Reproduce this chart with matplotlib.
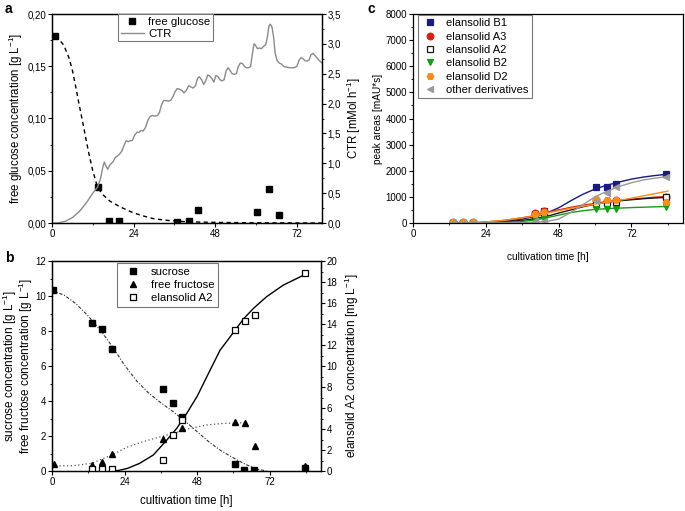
import numpy as np
import matplotlib
matplotlib.use('Agg')
import matplotlib.pyplot as plt
from matplotlib.ticker import MultipleLocator, FuncFormatter

plt.rcParams['font.family'] = ['Liberation Sans', 'DejaVu Sans']
plt.rcParams['font.size'] = 8.3
plt.rcParams['axes.labelsize'] = 8.3
plt.rcParams['xtick.labelsize'] = 7
plt.rcParams['ytick.labelsize'] = 7
plt.rcParams['axes.linewidth'] = 0.9
plt.rcParams['xtick.direction'] = 'out'
plt.rcParams['ytick.direction'] = 'out'
plt.rcParams['xtick.major.size'] = 2.6
plt.rcParams['ytick.major.size'] = 2.6
plt.rcParams['xtick.minor.size'] = 1.6
plt.rcParams['ytick.minor.size'] = 1.6
plt.rcParams['xtick.major.pad'] = 1.8
plt.rcParams['ytick.major.pad'] = 1.5
plt.rcParams['mathtext.default'] = 'regular'

# ---- panel a: free glucose + CTR
glc_t = [0.8, 13.4, 16.7, 19.8, 36.8, 40.2, 43.0, 60.3, 63.7, 66.9]
glc_y = [0.179, 0.034, 0.002, 0.002, 0.0006, 0.002, 0.0128, 0.011, 0.0326, 0.0077]
glc_fit_t = [0.8, 2, 3.5, 5, 6, 7, 8, 9, 10, 11, 12, 13.4, 15, 17, 20, 23, 26, 30, 34, 38, 42, 50, 60, 79.4]
glc_fit_y = [0.178, 0.176, 0.170, 0.158, 0.146, 0.130, 0.113, 0.097, 0.080, 0.064, 0.050, 0.034, 0.027, 0.021,
             0.0155, 0.011, 0.0075, 0.004, 0.0025, 0.0015, 0.001, 0.0005, 0.0002, 0.0]

ctr_t = [0, 2, 4, 6, 8, 10, 12, 13.4, 14.3, 15.0, 15.4, 15.9, 16.4, 17.0, 18.0, 18.6, 19.2, 19.8, 20.5,
         21.2, 21.8, 22.4, 23.0, 23.6, 24.3, 25.0, 25.6, 26.2, 26.8, 27.5, 28.2, 28.8, 29.4, 30.2, 31.0,
         31.6, 32.2, 32.8, 33.5, 34.3, 35.0, 35.6, 36.2, 36.8, 37.5, 38.2, 38.8, 39.5, 40.2, 40.8, 41.5,
         42.2, 42.8, 43.3, 44.0, 44.6, 45.2, 45.8, 46.4, 47.0, 47.6, 48.2, 48.8, 49.4, 50.0, 50.6, 51.2,
         51.8, 52.4, 53.0, 53.6, 54.2, 54.8, 55.4, 56.0, 56.6, 57.2, 57.8, 58.4, 58.9, 59.4, 59.8, 60.4,
         61.0, 61.6, 62.2, 62.8, 63.3, 63.8, 64.2, 64.7, 65.2, 65.6, 66.2, 66.8, 67.5, 68.2, 69.0, 70.0,
         71.0, 72.0, 72.6, 73.2, 73.8, 74.4, 75.0, 75.6, 76.2, 76.8, 77.4, 78.0, 78.6, 79.4]
ctr_y = [0, 0.005, 0.03, 0.09, 0.19, 0.33, 0.5, 0.6, 0.75, 0.95, 1.02, 0.95, 0.9, 0.97, 1.03, 1.1, 1.12,
         1.15, 1.2, 1.3, 1.38, 1.36, 1.38, 1.38, 1.47, 1.52, 1.52, 1.55, 1.54, 1.6, 1.72, 1.78, 1.8, 1.79,
         1.8, 1.85, 1.98, 2.05, 2.05, 2.04, 2.06, 2.12, 2.2, 2.25, 2.24, 2.22, 2.18, 2.22, 2.3, 2.28, 2.26,
         2.3, 2.42, 2.45, 2.4, 2.32, 2.38, 2.48, 2.46, 2.42, 2.36, 2.47, 2.45, 2.4, 2.38, 2.4, 2.55, 2.6,
         2.55, 2.5, 2.49, 2.5, 2.62, 2.68, 2.67, 2.62, 2.6, 2.6, 2.62, 2.82, 3.0, 2.98, 2.92, 2.93, 2.92,
         2.96, 2.98, 3.1, 3.3, 3.33, 3.28, 3.1, 2.85, 2.72, 2.68, 2.66, 2.62, 2.61, 2.6, 2.6, 2.62, 2.72,
         2.77, 2.75, 2.72, 2.71, 2.73, 2.82, 2.84, 2.8, 2.76, 2.72, 2.68]

# ---- panel b: sucrose, fructose, elansolid A2
suc_t = [0.3, 13.1, 16.7, 19.7, 36.8, 40.1, 42.9, 60.6, 63.6, 66.9, 83.6]
suc_y = [10.35, 8.45, 8.1, 6.97, 4.67, 3.87, 3.1, 0.4, 0.05, 0.05, 0.15]
fru_t = [0.5, 13.1, 16.6, 19.7, 36.8, 42.9, 60.6, 63.9, 67.0, 83.6]
fru_y = [0.38, 0.34, 0.53, 0.97, 1.81, 2.44, 2.78, 2.76, 1.45, 0.29]
a2_t = [13.1, 16.6, 19.7, 36.8, 40.1, 42.9, 60.4, 63.7, 67.0, 83.6]
a2_y = [0.16, 0.16, 0.2, 1.05, 3.43, 4.86, 13.43, 14.31, 14.86, 18.83]

suc_fit_t = [0, 4, 8, 12, 16, 20, 24, 28, 32, 36, 40, 44, 48, 52, 56, 60, 64, 68, 71]
suc_fit_y = [10.3, 10.05, 9.55, 8.85, 8.05, 7.1, 6.05, 5.15, 4.45, 3.9, 3.4, 2.85, 2.25, 1.65, 1.15,
             0.75, 0.38, 0.1, 0.0]
fru_fit_t = [0, 7, 13.1, 19.7, 24.7, 30.2, 36.8, 40.1, 45.7, 51.2, 56.7, 62.3, 64.5]
fru_fit_y = [0.29, 0.3, 0.44, 0.91, 1.35, 1.68, 2.0, 2.15, 2.44, 2.63, 2.72, 2.75, 2.78]
a2_fit_t = [19, 22, 25, 29, 33.5, 38, 41.3, 44.6, 48, 52.3, 55.6, 59, 63.4, 66.7, 71, 76.5, 83.6]
a2_fit_y = [0, 0.05, 0.25, 0.73, 1.52, 2.95, 4.07, 5.5, 7.1, 9.6, 11.5, 12.8, 14.5, 15.5, 16.6, 17.7, 18.7]

# ---- panel c: peak areas
c_t = [13.1, 16.6, 19.7, 40.1, 43.1, 60.4, 63.8, 66.8, 83.5]
b1 = [10, 10, 10, 330, 450, 1360, 1370, 1480, 1890]
a3 = [20, 20, 20, 400, 470, 880, 850, 880, 1000]
a2 = [5, 5, 5, 260, 300, 720, 760, 790, 980]
b2 = [5, 5, 5, 150, 170, 530, 520, 520, 620]
d2 = [30, 30, 30, 330, 430, 920, 880, 880, 820]
oth = [5, 5, 5, 60, 80, 830, 1150, 1390, 1770]

fit_t = [13, 20, 24, 30, 36, 40, 44, 48, 52, 56, 60, 64, 68, 72, 76, 80, 84]
b1_fit = [0, 5, 20, 60, 150, 250, 380, 580, 850, 1100, 1300, 1450, 1570, 1680, 1760, 1820, 1870]
a3_fit = [0, 10, 40, 100, 200, 280, 400, 500, 600, 680, 750, 820, 870, 910, 950, 990, 1020]
a2_fit = [0, 0, 15, 50, 100, 160, 250, 380, 500, 620, 720, 800, 850, 890, 930, 960, 985]
b2_fit = [0, 0, 5, 20, 60, 110, 200, 300, 400, 470, 520, 550, 570, 590, 605, 620, 630]
d2_fit = [0, 10, 40, 100, 200, 270, 380, 470, 560, 640, 720, 800, 870, 950, 1040, 1130, 1220]
oth_fit = [0, 0, 0, 5, 15, 30, 60, 150, 400, 700, 1000, 1220, 1400, 1540, 1650, 1720, 1780]

comma = lambda nd: FuncFormatter(lambda v, p: ('{:.%df}' % nd).format(v).replace('.', ','))

fig = plt.figure(figsize=(6.85, 5.11), dpi=100)

# panel a
ax = fig.add_axes([52/685, 1-223/511, 270/685, 209/511])
ax2 = ax.twinx()
ax.plot(glc_fit_t, glc_fit_y, color='k', lw=1, ls=(0, (3, 2.5)))
h1, = ax.plot(glc_t, glc_y, 's', color='k', ms=4.3, ls='none', label='free glucose')
h2, = ax2.plot(ctr_t, ctr_y, color='#8a8a8a', lw=1, label='CTR')
ax.set_xlim(0, 79.4)
ax.set_ylim(0, 0.2)
ax2.set_ylim(0, 3.5)
ax.xaxis.set_major_locator(MultipleLocator(24))
ax.xaxis.set_minor_locator(MultipleLocator(12))
ax.yaxis.set_major_locator(MultipleLocator(0.05))
ax.yaxis.set_minor_locator(MultipleLocator(0.025))
ax.yaxis.set_major_formatter(comma(2))
ax2.yaxis.set_major_locator(MultipleLocator(0.5))
ax2.yaxis.set_minor_locator(MultipleLocator(0.25))
ax2.yaxis.set_major_formatter(comma(1))
ax.set_ylabel('free glucose concentration [g L$^{-1}$]')
ax.yaxis.set_label_coords(-0.10, 0.5)
ax2.set_ylabel('CTR [mMol h$^{-1}$]', labelpad=3)
leg = ax2.legend(handles=[h1, h2], loc='upper left', bbox_to_anchor=(0.244, 1.0), borderaxespad=0,
                 fancybox=False, edgecolor='#777777', framealpha=1, handlelength=2.0,
                 labelspacing=0.15, handletextpad=0.4, borderpad=0.25, fontsize=8.2)
leg.get_frame().set_linewidth(0.8)
fig.text(5/685, 1-9/511, 'a', fontsize=10, fontweight='bold', va='center')

# panel b
bx = fig.add_axes([52/685, 1-471/511, 269/685, 210/511])
bx2 = bx.twinx()
bx.plot(suc_fit_t, suc_fit_y, color='#333333', lw=0.8, ls=(0, (3, 1.5, 1, 1.5)))
bx.plot(fru_fit_t, fru_fit_y, color='#555555', lw=0.9, ls=(0, (1, 2)))
bx2.plot(a2_fit_t, a2_fit_y, color='k', lw=1)
hs, = bx.plot(suc_t, suc_y, 's', color='k', ms=4.3, ls='none', label='sucrose')
hf, = bx.plot(fru_t, fru_y, '^', color='k', ms=4.5, ls='none', label='free fructose')
ha, = bx2.plot(a2_t, a2_y, 's', mfc='white', mec='k', mew=0.9, ms=4, ls='none', label='elansolid A2')
bx.set_xlim(0, 89)
bx.set_ylim(0, 12)
bx2.set_ylim(0, 20)
bx.xaxis.set_major_locator(MultipleLocator(24))
bx.xaxis.set_minor_locator(MultipleLocator(12))
bx.yaxis.set_major_locator(MultipleLocator(2))
bx.yaxis.set_minor_locator(MultipleLocator(1))
bx2.yaxis.set_major_locator(MultipleLocator(2))
bx2.yaxis.set_minor_locator(MultipleLocator(1))
bx.set_xlabel('cultivation time [h]', labelpad=6)
bx.set_ylabel('sucrose concentration [g L$^{-1}$]\nfree fructose concentration [g L$^{-1}$]',
              linespacing=0.8, fontsize=8.5)
bx.yaxis.set_label_coords(-0.065, 0.5)
bx2.set_ylabel('elansolid A2 concentration [mg L$^{-1}$]', labelpad=4, fontsize=8.5)
leg = bx2.legend(handles=[hs, hf, ha], loc='upper left', bbox_to_anchor=(0.24, 0.99), borderaxespad=0,
                 fancybox=False, edgecolor='#777777', framealpha=1, handlelength=2.2,
                 labelspacing=0.3, handletextpad=0.5, borderpad=0.3, fontsize=8.2)
leg.get_frame().set_linewidth(0.8)
fig.text(5/685, 1-258/511, 'b', fontsize=10, fontweight='bold', va='center')

# panel c
cx = fig.add_axes([413/685, 1-223/511, 270/685, 209/511])
series = [
    (b1, b1_fit, 'elansolid B1', '#1a1a80', 's', '#1a1a80'),
    (a3, a3_fit, 'elansolid A3', '#d62010', 'o', '#d62010'),
    (a2, a2_fit, 'elansolid A2', '#1a1a1a', 's', 'white'),
    (b2, b2_fit, 'elansolid B2', '#1a9a1a', 'v', '#1a9a1a'),
    (d2, d2_fit, 'elansolid D2', '#ff8c1a', 'H', '#ff8c1a'),
    (oth, oth_fit, 'other derivatives', '#9a9a9a', '<', '#9a9a9a'),
]
handles = []
for vals, fit, lab, col, mk, fc in series:
    cx.plot(fit_t, fit, color=col, lw=1)
    h, = cx.plot(c_t, vals, mk, color=col, mfc=fc, mec=col, mew=0.9, ms=4.8, ls='none', label=lab)
    handles.append(h)
cx.set_xlim(0, 89)
cx.set_ylim(0, 8000)
cx.xaxis.set_major_locator(MultipleLocator(24))
cx.xaxis.set_minor_locator(MultipleLocator(12))
cx.yaxis.set_major_locator(MultipleLocator(1000))
cx.yaxis.set_minor_locator(MultipleLocator(500))
cx.set_xlabel('cultivation time [h]', labelpad=9, fontsize=7.3)
cx.set_ylabel('peak areas [mAU*s]', labelpad=2, fontsize=7.3)
leg = cx.legend(handles=handles, loc='upper left', bbox_to_anchor=(0.019, 0.995), borderaxespad=0,
                fancybox=False, edgecolor='#777777', framealpha=1, handlelength=1.6,
                labelspacing=0.3, handletextpad=0.6, borderpad=0.3, fontsize=8)
leg.get_frame().set_linewidth(0.8)
fig.text(368/685, 1-9/511, 'c', fontsize=10, fontweight='bold', va='center')

fig.savefig('out.png', dpi=100)
